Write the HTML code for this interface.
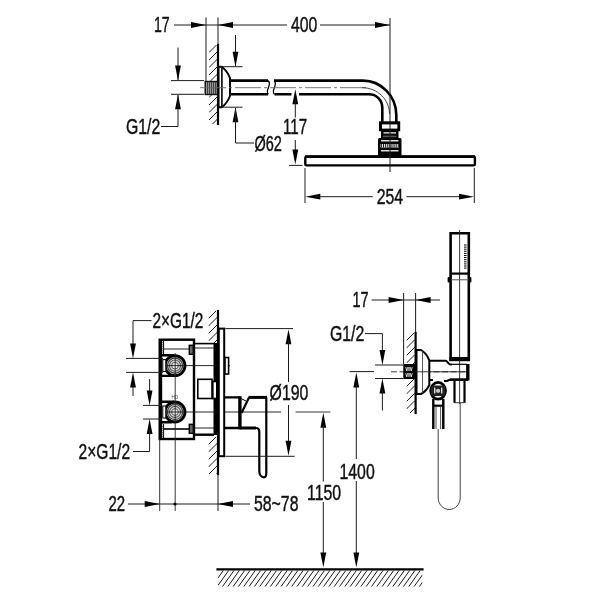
<!DOCTYPE html>
<html><head><meta charset="utf-8"><title>Dimensions</title>
<style>
html,body{margin:0;padding:0;background:#fff;}
body{width:600px;height:600px;overflow:hidden;}
svg{display:block;will-change:transform;filter:blur(0.45px);font-family:"Liberation Sans",sans-serif;fill:#111;}
</style></head><body>
<svg width="600" height="600" viewBox="0 0 600 600">
<rect width="600" height="600" fill="#fff"/>
<!-- top: shower arm -->
<text transform="translate(154,32.3) scale(0.64,1)" font-size="22" stroke="#111" stroke-width="0.45">17</text>
<line x1="174" y1="25" x2="287" y2="25" stroke="#1c1c1c" stroke-width="1.0" />
<polygon points="206,25 191,22.1 191,27.9" fill="#000"/>
<polygon points="218,25 233,22.1 233,27.9" fill="#000"/>
<text transform="translate(291,32.3) scale(0.72,1)" font-size="22" stroke="#111" stroke-width="0.45">400</text>
<line x1="320" y1="25" x2="390" y2="25" stroke="#1c1c1c" stroke-width="1.0" />
<polygon points="390,25 375,22.1 375,27.9" fill="#000"/>
<line x1="206" y1="17.5" x2="206" y2="94" stroke="#1c1c1c" stroke-width="1.0" />
<line x1="218" y1="17.5" x2="218" y2="45" stroke="#1c1c1c" stroke-width="1.0" />
<clipPath id="c1"><rect x="209" y="45" width="8.5" height="79"/></clipPath>
<g clip-path="url(#c1)" stroke="#1c1c1c" stroke-width="1.0">
<line x1="209" y1="45.00" x2="217.5" y2="36.50"/>
<line x1="209" y1="52.50" x2="217.5" y2="44.00"/>
<line x1="209" y1="60.00" x2="217.5" y2="51.50"/>
<line x1="209" y1="67.50" x2="217.5" y2="59.00"/>
<line x1="209" y1="75.00" x2="217.5" y2="66.50"/>
<line x1="209" y1="82.50" x2="217.5" y2="74.00"/>
<line x1="209" y1="90.00" x2="217.5" y2="81.50"/>
<line x1="209" y1="97.50" x2="217.5" y2="89.00"/>
<line x1="209" y1="105.00" x2="217.5" y2="96.50"/>
<line x1="209" y1="112.50" x2="217.5" y2="104.00"/>
<line x1="209" y1="120.00" x2="217.5" y2="111.50"/>
<line x1="209" y1="127.50" x2="217.5" y2="119.00"/>
<line x1="209" y1="135.00" x2="217.5" y2="126.50"/>
</g>
<line x1="218" y1="45" x2="218" y2="124" stroke="#000" stroke-width="2.2" stroke-linecap="square"/>
<rect x="205.2" y="81.5" width="12.3" height="13" stroke="#111" stroke-width="1.4" fill="#999"/>
<line x1="207.5" y1="82" x2="207.5" y2="94" stroke="#333" stroke-width="0.9" />
<line x1="209.5" y1="82" x2="209.5" y2="94" stroke="#333" stroke-width="0.9" />
<line x1="211.5" y1="82" x2="211.5" y2="94" stroke="#333" stroke-width="0.9" />
<line x1="213.5" y1="82" x2="213.5" y2="94" stroke="#333" stroke-width="0.9" />
<line x1="215.5" y1="82" x2="215.5" y2="94" stroke="#333" stroke-width="0.9" />
<path d="M218.5,66.7 L221.7,66.7 Q226.9,70.3 230,78 L230,96 Q226.9,103.7 221.7,107.2 L218.5,107.2 Z" stroke="#000" stroke-width="2" fill="none" />
<line x1="221.9" y1="67" x2="221.9" y2="107" stroke="#000" stroke-width="1.6" />
<path d="M230,80.6 L268,80.6 M230,94.3 L268,94.3" stroke="#000" stroke-width="2.6" fill="none" />
<path d="M274,80.6 L363,80.6 C381,80.6 396.3,96 396.3,115 L396.3,122" stroke="#000" stroke-width="2.6" fill="none" />
<path d="M274.5,94.3 L291.5,94.3 M299,94.3 L369,94.3 C376.5,94.3 382.3,100 382.3,108 L382.3,122" stroke="#000" stroke-width="2.6" fill="none" />
<path d="M268,80.6 C273,84 264,91 268.5,94.3" stroke="#000" stroke-width="1.3" fill="none" />
<path d="M274,80.6 C279,84 270,91 274.5,94.3" stroke="#000" stroke-width="1.3" fill="none" />
<line x1="200" y1="87.7" x2="366" y2="87.7" stroke="#666" stroke-width="0.9" stroke-dasharray="26 3 3 3"/>
<path d="M362,87.7 C378,87.7 389.5,100 389.5,114" stroke="#333" stroke-width="0.9" fill="none" />
<rect x="379" y="121.3" width="21.2" height="9.9" fill="#000"/>
<rect x="382" y="124.4" width="15.4" height="4.2" fill="#fff"/>
<rect x="381" y="131" width="17.5" height="7.5" fill="#000"/>
<rect x="383.5" y="132.3" width="12.5" height="1.2" fill="#fff"/>
<rect x="383" y="135.6" width="13.5" height="1.6" fill="#555"/>
<rect x="378" y="138" width="23.5" height="18" rx="1.5" fill="#000"/>
<rect x="381" y="140" width="17.5" height="1.5" fill="#ddd"/>
<rect x="380.5" y="144" width="18.5" height="3.5" fill="#fff"/>
<line x1="381.6" y1="144" x2="381.6" y2="147.5" stroke="#000" stroke-width="0.9" />
<line x1="383.5" y1="144" x2="383.5" y2="147.5" stroke="#000" stroke-width="0.9" />
<line x1="385.40000000000003" y1="144" x2="385.40000000000003" y2="147.5" stroke="#000" stroke-width="0.9" />
<line x1="387.3" y1="144" x2="387.3" y2="147.5" stroke="#000" stroke-width="0.9" />
<line x1="389.20000000000005" y1="144" x2="389.20000000000005" y2="147.5" stroke="#000" stroke-width="0.9" />
<line x1="391.1" y1="144" x2="391.1" y2="147.5" stroke="#000" stroke-width="0.9" />
<line x1="393.0" y1="144" x2="393.0" y2="147.5" stroke="#000" stroke-width="0.9" />
<line x1="394.90000000000003" y1="144" x2="394.90000000000003" y2="147.5" stroke="#000" stroke-width="0.9" />
<line x1="396.8" y1="144" x2="396.8" y2="147.5" stroke="#000" stroke-width="0.9" />
<line x1="398.70000000000005" y1="144" x2="398.70000000000005" y2="147.5" stroke="#000" stroke-width="0.9" />
<rect x="381" y="150" width="17.5" height="1.5" fill="#ddd"/>
<rect x="305.3" y="156.8" width="169.6" height="8.6" rx="1.2" fill="#fff" stroke="#000" stroke-width="2.4"/>
<line x1="305" y1="155.9" x2="475" y2="155.9" stroke="#000" stroke-width="1.2" />
<line x1="390" y1="18" x2="390" y2="172" stroke="#1c1c1c" stroke-width="1.0" />
<line x1="171" y1="80.6" x2="204" y2="80.6" stroke="#1c1c1c" stroke-width="1.0" />
<line x1="171" y1="94.3" x2="204" y2="94.3" stroke="#1c1c1c" stroke-width="1.0" />
<line x1="178" y1="47.5" x2="178" y2="80" stroke="#1c1c1c" stroke-width="1.0" />
<polygon points="178,80.6 175.1,65.6 180.9,65.6" fill="#000"/>
<polygon points="178,94.3 175.1,109.3 180.9,109.3" fill="#000"/>
<line x1="178" y1="95" x2="178" y2="126.5" stroke="#1c1c1c" stroke-width="1.0" />
<line x1="161" y1="126.5" x2="178" y2="126.5" stroke="#1c1c1c" stroke-width="1.0" />
<text transform="translate(126,134) scale(0.72,1)" font-size="22" stroke="#111" stroke-width="0.45">G1/2</text>
<line x1="220" y1="66.7" x2="242.5" y2="66.7" stroke="#1c1c1c" stroke-width="1.0" />
<line x1="220" y1="107.2" x2="242.5" y2="107.2" stroke="#1c1c1c" stroke-width="1.0" />
<line x1="235.5" y1="35" x2="235.5" y2="66" stroke="#1c1c1c" stroke-width="1.0" />
<polygon points="235.5,66.7 232.6,51.7 238.4,51.7" fill="#000"/>
<polygon points="235.5,107.2 232.6,122.2 238.4,122.2" fill="#000"/>
<line x1="235.5" y1="108" x2="235.5" y2="143" stroke="#1c1c1c" stroke-width="1.0" />
<line x1="235.5" y1="143" x2="254" y2="143" stroke="#1c1c1c" stroke-width="1.0" />
<text transform="translate(254.5,151.3) scale(0.66,1)" font-size="22" stroke="#111" stroke-width="0.45">Ø62</text>
<polygon points="295.3,89.2 292.40000000000003,104.2 298.2,104.2" fill="#000"/>
<line x1="295.3" y1="100" x2="295.3" y2="117.5" stroke="#1c1c1c" stroke-width="1.0" />
<text transform="translate(283,134) scale(0.69,1)" font-size="22" stroke="#111" stroke-width="0.45">117</text>
<line x1="295.3" y1="140" x2="295.3" y2="160" stroke="#1c1c1c" stroke-width="1.0" />
<polygon points="295.3,164.5 292.40000000000003,149.5 298.2,149.5" fill="#000"/>
<line x1="289" y1="165.4" x2="302.5" y2="165.4" stroke="#1c1c1c" stroke-width="1.0" />
<line x1="305" y1="168" x2="305" y2="203" stroke="#1c1c1c" stroke-width="1.0" />
<line x1="474.3" y1="168" x2="474.3" y2="203" stroke="#1c1c1c" stroke-width="1.0" />
<polygon points="305.3,196.7 320.3,193.79999999999998 320.3,199.6" fill="#000"/>
<line x1="315" y1="196.7" x2="372.7" y2="196.7" stroke="#1c1c1c" stroke-width="1.0" />
<text transform="translate(376.7,204.3) scale(0.72,1)" font-size="22" stroke="#111" stroke-width="0.45">254</text>
<line x1="406.4" y1="196.7" x2="465" y2="196.7" stroke="#1c1c1c" stroke-width="1.0" />
<polygon points="474,196.7 459,193.79999999999998 459,199.6" fill="#000"/>
<!-- left: concealed valve -->
<clipPath id="c2"><rect x="208.5" y="311" width="9.0" height="32"/></clipPath>
<g clip-path="url(#c2)" stroke="#1c1c1c" stroke-width="1.0">
<line x1="208.5" y1="311.00" x2="217.5" y2="302.00"/>
<line x1="208.5" y1="318.50" x2="217.5" y2="309.50"/>
<line x1="208.5" y1="326.00" x2="217.5" y2="317.00"/>
<line x1="208.5" y1="333.50" x2="217.5" y2="324.50"/>
<line x1="208.5" y1="341.00" x2="217.5" y2="332.00"/>
<line x1="208.5" y1="348.50" x2="217.5" y2="339.50"/>
<line x1="208.5" y1="356.00" x2="217.5" y2="347.00"/>
</g>
<clipPath id="c3"><rect x="208.5" y="437" width="9.0" height="37"/></clipPath>
<g clip-path="url(#c3)" stroke="#1c1c1c" stroke-width="1.0">
<line x1="208.5" y1="437.00" x2="217.5" y2="428.00"/>
<line x1="208.5" y1="444.50" x2="217.5" y2="435.50"/>
<line x1="208.5" y1="452.00" x2="217.5" y2="443.00"/>
<line x1="208.5" y1="459.50" x2="217.5" y2="450.50"/>
<line x1="208.5" y1="467.00" x2="217.5" y2="458.00"/>
<line x1="208.5" y1="474.50" x2="217.5" y2="465.50"/>
<line x1="208.5" y1="482.00" x2="217.5" y2="473.00"/>
<line x1="208.5" y1="489.50" x2="217.5" y2="480.50"/>
</g>
<line x1="218" y1="311" x2="218" y2="474" stroke="#000" stroke-width="2.2" stroke-linecap="square"/>
<line x1="218" y1="474" x2="218" y2="511" stroke="#1c1c1c" stroke-width="1.0" />
<rect x="159.7" y="339.7" width="34.3" height="99.3" stroke="#000" stroke-width="2.4" fill="none"/>
<line x1="162.2" y1="342" x2="162.2" y2="354" stroke="#888" stroke-width="1.2" stroke-dasharray="1 1"/>
<line x1="162.2" y1="426" x2="162.2" y2="437" stroke="#888" stroke-width="1.2" stroke-dasharray="1 1"/>
<line x1="163.6" y1="341" x2="163.6" y2="355" stroke="#000" stroke-width="1.0" />
<line x1="163.6" y1="424" x2="163.6" y2="438" stroke="#000" stroke-width="1.0" />
<line x1="164" y1="349" x2="189" y2="349" stroke="#222" stroke-width="1.0" />
<line x1="164" y1="429" x2="190" y2="429" stroke="#000" stroke-width="1.6" />
<rect x="189.3" y="345.3" width="4" height="9" stroke="#000" stroke-width="1.4" fill="#666"/>
<rect x="189.3" y="424.3" width="4" height="9" stroke="#000" stroke-width="1.4" fill="#666"/>
<line x1="194" y1="343.6" x2="214" y2="343.6" stroke="#000" stroke-width="1.6" />
<line x1="194" y1="348" x2="214" y2="348" stroke="#222" stroke-width="1.0" />
<line x1="194" y1="428" x2="214" y2="428" stroke="#222" stroke-width="1.0" />
<line x1="194" y1="434.7" x2="214" y2="434.7" stroke="#000" stroke-width="2.4" />
<rect x="213.5" y="343" width="4.5" height="92" fill="#000"/>
<line x1="160.6" y1="341" x2="160.6" y2="438" stroke="#000" stroke-width="3.2" stroke-linecap="square"/>
<path d="M160,355.3 L174,355.3 M160,375.90000000000003 L172,375.90000000000003" stroke="#000" stroke-width="2.4" fill="none" />
<circle cx="175" cy="365.6" r="10" fill="#fff" stroke="#000" stroke-width="2.9"/>
<rect x="162.8" y="359.6" width="3" height="12" fill="#fff" stroke="#000" stroke-width="1"/>
<circle cx="175" cy="365.6" r="7.6" fill="#ddd" stroke="#444" stroke-width="1.4"/>
<circle cx="175" cy="365.6" r="5.6" fill="none" stroke="#555" stroke-width="1.1"/>
<circle cx="175" cy="365.6" r="3.4" fill="#eee" stroke="#555" stroke-width="1.0"/>
<line x1="165" y1="365.6" x2="230" y2="365.6" stroke="#111" stroke-width="0.9" />
<path d="M160,401.7 L174,401.7 M160,422.3 L172,422.3" stroke="#000" stroke-width="2.4" fill="none" />
<circle cx="175" cy="412" r="10" fill="#fff" stroke="#000" stroke-width="2.9"/>
<rect x="162.8" y="406" width="3" height="12" fill="#fff" stroke="#000" stroke-width="1"/>
<circle cx="175" cy="412" r="7.6" fill="#ddd" stroke="#444" stroke-width="1.4"/>
<circle cx="175" cy="412" r="5.6" fill="none" stroke="#555" stroke-width="1.1"/>
<circle cx="175" cy="412" r="3.4" fill="#eee" stroke="#555" stroke-width="1.0"/>
<line x1="165" y1="412" x2="281" y2="412" stroke="#111" stroke-width="0.9" />
<line x1="175.2" y1="353" x2="175.2" y2="511" stroke="#222" stroke-width="0.9" />
<line x1="159.7" y1="439" x2="159.7" y2="511" stroke="#222" stroke-width="0.9" />
<text x="171.5" y="398.5" font-size="4.5" style="fill:#444">HO</text>
<rect x="197.8" y="379.3" width="14.2" height="19.2" stroke="#000" stroke-width="1.6" fill="#fff"/>
<rect x="212.8" y="381.5" width="4" height="17" stroke="#000" stroke-width="1.6" fill="#fff"/>
<rect x="218.8" y="328.6" width="5.4" height="127.6" stroke="#000" stroke-width="2.0" fill="#fff"/>
<rect x="225" y="357.5" width="3.6" height="16.5" stroke="#000" stroke-width="1.6" fill="#fff"/>
<path d="M224.5,397.4 L239.7,397.4 M239.7,428 L224.5,428" stroke="#000" stroke-width="2.4" fill="none" />
<path d="M239.9,396.2 L239.9,429.3" stroke="#000" stroke-width="3.4" fill="none" />
<path d="M239.7,428 L256,428" stroke="#000" stroke-width="3.0" fill="none" />
<path d="M248.5,397.4 L267,397.4" stroke="#000" stroke-width="3.0" fill="none" />
<path d="M256,428 C258.5,428 259.3,429 259.3,432 L259.3,471 C259.3,474.5 261,477.3 264,477.3 C265.8,477.3 266.3,476 266.3,473 L266.3,397.4 M249,397.4 L241.5,413" stroke="#000" stroke-width="2.2" fill="none" />
<path d="M240,398 L246,401" stroke="#000" stroke-width="1.0" fill="none" />
<line x1="295.6" y1="412" x2="330.4" y2="412" stroke="#222" stroke-width="0.9" />
<text transform="translate(152.5,328) scale(0.7,1)" font-size="22" stroke="#111" stroke-width="0.45">2×G1/2</text>
<line x1="133" y1="320.6" x2="151.5" y2="320.6" stroke="#1c1c1c" stroke-width="1.0" />
<line x1="133" y1="320.6" x2="133" y2="345" stroke="#1c1c1c" stroke-width="1.0" />
<polygon points="133,358.4 130.1,343.4 135.9,343.4" fill="#000"/>
<line x1="126" y1="358.4" x2="163" y2="358.4" stroke="#1c1c1c" stroke-width="1.0" />
<line x1="126" y1="372.4" x2="163" y2="372.4" stroke="#1c1c1c" stroke-width="1.0" />
<polygon points="133,372.4 130.1,387.4 135.9,387.4" fill="#000"/>
<line x1="133" y1="385" x2="133" y2="396" stroke="#1c1c1c" stroke-width="1.0" />
<line x1="149.6" y1="379" x2="149.6" y2="392" stroke="#1c1c1c" stroke-width="1.0" />
<polygon points="149.6,405.4 146.7,390.4 152.5,390.4" fill="#000"/>
<line x1="143" y1="405.4" x2="161" y2="405.4" stroke="#1c1c1c" stroke-width="1.0" />
<line x1="143" y1="419" x2="161" y2="419" stroke="#1c1c1c" stroke-width="1.0" />
<polygon points="149.6,419 146.7,434 152.5,434" fill="#000"/>
<line x1="149.6" y1="430" x2="149.6" y2="451.5" stroke="#1c1c1c" stroke-width="1.0" />
<line x1="133" y1="451.5" x2="149.6" y2="451.5" stroke="#1c1c1c" stroke-width="1.0" />
<text transform="translate(78.5,459) scale(0.71,1)" font-size="22" stroke="#111" stroke-width="0.45">2×G1/2</text>
<line x1="225.5" y1="328.6" x2="293" y2="328.6" stroke="#1c1c1c" stroke-width="1.0" />
<line x1="225.5" y1="456.3" x2="294.7" y2="456.3" stroke="#1c1c1c" stroke-width="1.0" />
<polygon points="288.5,329.2 285.6,344.2 291.4,344.2" fill="#000"/>
<line x1="288.5" y1="340" x2="288.5" y2="382" stroke="#1c1c1c" stroke-width="1.0" />
<text transform="translate(269.6,400.3) scale(0.72,1)" font-size="22" stroke="#111" stroke-width="0.45">Ø190</text>
<line x1="288.5" y1="405" x2="288.5" y2="445" stroke="#1c1c1c" stroke-width="1.0" />
<polygon points="288.5,455.7 285.6,440.7 291.4,440.7" fill="#000"/>
<text transform="translate(108.5,511) scale(0.68,1)" font-size="22" stroke="#111" stroke-width="0.45">22</text>
<line x1="128" y1="504" x2="250" y2="504" stroke="#1c1c1c" stroke-width="1.0" />
<polygon points="159.7,504 144.7,501.1 144.7,506.9" fill="#000"/>
<polygon points="218,504 233,501.1 233,506.9" fill="#000"/>
<circle cx="175" cy="504" r="1.6" fill="#000"/>
<text transform="translate(254,511) scale(0.72,1)" font-size="22" stroke="#111" stroke-width="0.45">58~78</text>
<polygon points="323.3,412.8 320.40000000000003,427.8 326.2,427.8" fill="#000"/>
<line x1="323.3" y1="425" x2="323.3" y2="481.5" stroke="#1c1c1c" stroke-width="1.0" />
<text transform="translate(307,500) scale(0.72,1)" font-size="22" stroke="#111" stroke-width="0.45">1150</text>
<line x1="323.3" y1="502" x2="323.3" y2="555" stroke="#1c1c1c" stroke-width="1.0" />
<polygon points="323.3,567.5 320.40000000000003,552.5 326.2,552.5" fill="#000"/>
<line x1="349.5" y1="371.6" x2="374" y2="371.6" stroke="#1c1c1c" stroke-width="1.0" />
<polygon points="356.3,372.4 353.40000000000003,387.4 359.2,387.4" fill="#000"/>
<line x1="356.3" y1="385" x2="356.3" y2="459" stroke="#1c1c1c" stroke-width="1.0" />
<text transform="translate(339.5,478.5) scale(0.72,1)" font-size="22" stroke="#111" stroke-width="0.45">1400</text>
<line x1="356.3" y1="481" x2="356.3" y2="555" stroke="#1c1c1c" stroke-width="1.0" />
<polygon points="356.3,567.5 353.40000000000003,552.5 359.2,552.5" fill="#000"/>
<line x1="217.5" y1="569.3" x2="422.5" y2="569.3" stroke="#000" stroke-width="2.2" stroke-linecap="square"/>
<clipPath id="c4"><rect x="218" y="570.5" width="204.5" height="16.0"/></clipPath>
<g clip-path="url(#c4)" stroke="#1c1c1c" stroke-width="1.0">
<line x1="218" y1="570.50" x2="422.5" y2="284.20"/>
<line x1="218" y1="577.95" x2="422.5" y2="291.65"/>
<line x1="218" y1="585.40" x2="422.5" y2="299.10"/>
<line x1="218" y1="592.85" x2="422.5" y2="306.55"/>
<line x1="218" y1="600.30" x2="422.5" y2="314.00"/>
<line x1="218" y1="607.75" x2="422.5" y2="321.45"/>
<line x1="218" y1="615.20" x2="422.5" y2="328.90"/>
<line x1="218" y1="622.65" x2="422.5" y2="336.35"/>
<line x1="218" y1="630.10" x2="422.5" y2="343.80"/>
<line x1="218" y1="637.55" x2="422.5" y2="351.25"/>
<line x1="218" y1="645.00" x2="422.5" y2="358.70"/>
<line x1="218" y1="652.45" x2="422.5" y2="366.15"/>
<line x1="218" y1="659.90" x2="422.5" y2="373.60"/>
<line x1="218" y1="667.35" x2="422.5" y2="381.05"/>
<line x1="218" y1="674.80" x2="422.5" y2="388.50"/>
<line x1="218" y1="682.25" x2="422.5" y2="395.95"/>
<line x1="218" y1="689.70" x2="422.5" y2="403.40"/>
<line x1="218" y1="697.15" x2="422.5" y2="410.85"/>
<line x1="218" y1="704.60" x2="422.5" y2="418.30"/>
<line x1="218" y1="712.05" x2="422.5" y2="425.75"/>
<line x1="218" y1="719.50" x2="422.5" y2="433.20"/>
<line x1="218" y1="726.95" x2="422.5" y2="440.65"/>
<line x1="218" y1="734.40" x2="422.5" y2="448.10"/>
<line x1="218" y1="741.85" x2="422.5" y2="455.55"/>
<line x1="218" y1="749.30" x2="422.5" y2="463.00"/>
<line x1="218" y1="756.75" x2="422.5" y2="470.45"/>
<line x1="218" y1="764.20" x2="422.5" y2="477.90"/>
<line x1="218" y1="771.65" x2="422.5" y2="485.35"/>
<line x1="218" y1="779.10" x2="422.5" y2="492.80"/>
<line x1="218" y1="786.55" x2="422.5" y2="500.25"/>
<line x1="218" y1="794.00" x2="422.5" y2="507.70"/>
<line x1="218" y1="801.45" x2="422.5" y2="515.15"/>
<line x1="218" y1="808.90" x2="422.5" y2="522.60"/>
<line x1="218" y1="816.35" x2="422.5" y2="530.05"/>
<line x1="218" y1="823.80" x2="422.5" y2="537.50"/>
<line x1="218" y1="831.25" x2="422.5" y2="544.95"/>
<line x1="218" y1="838.70" x2="422.5" y2="552.40"/>
<line x1="218" y1="846.15" x2="422.5" y2="559.85"/>
<line x1="218" y1="853.60" x2="422.5" y2="567.30"/>
<line x1="218" y1="861.05" x2="422.5" y2="574.75"/>
<line x1="218" y1="868.50" x2="422.5" y2="582.20"/>
<line x1="218" y1="875.95" x2="422.5" y2="589.65"/>
</g>
<!-- right: hand shower -->
<text transform="translate(352.5,307.3) scale(0.66,1)" font-size="22" stroke="#111" stroke-width="0.45">17</text>
<line x1="371.6" y1="300" x2="440" y2="300" stroke="#1c1c1c" stroke-width="1.0" />
<polygon points="403.6,300 388.6,297.1 388.6,302.9" fill="#000"/>
<polygon points="415.6,300 430.6,297.1 430.6,302.9" fill="#000"/>
<line x1="403.6" y1="293" x2="403.6" y2="364" stroke="#1c1c1c" stroke-width="1.0" />
<line x1="415.6" y1="293" x2="415.6" y2="333" stroke="#1c1c1c" stroke-width="1.0" />
<clipPath id="c5"><rect x="406.5" y="333" width="8.5" height="31"/></clipPath>
<g clip-path="url(#c5)" stroke="#1c1c1c" stroke-width="1.0">
<line x1="406.5" y1="333.00" x2="415" y2="324.50"/>
<line x1="406.5" y1="340.50" x2="415" y2="332.00"/>
<line x1="406.5" y1="348.00" x2="415" y2="339.50"/>
<line x1="406.5" y1="355.50" x2="415" y2="347.00"/>
<line x1="406.5" y1="363.00" x2="415" y2="354.50"/>
<line x1="406.5" y1="370.50" x2="415" y2="362.00"/>
<line x1="406.5" y1="378.00" x2="415" y2="369.50"/>
</g>
<clipPath id="c6"><rect x="406.5" y="379" width="8.5" height="34"/></clipPath>
<g clip-path="url(#c6)" stroke="#1c1c1c" stroke-width="1.0">
<line x1="406.5" y1="379.00" x2="415" y2="370.50"/>
<line x1="406.5" y1="386.50" x2="415" y2="378.00"/>
<line x1="406.5" y1="394.00" x2="415" y2="385.50"/>
<line x1="406.5" y1="401.50" x2="415" y2="393.00"/>
<line x1="406.5" y1="409.00" x2="415" y2="400.50"/>
<line x1="406.5" y1="416.50" x2="415" y2="408.00"/>
<line x1="406.5" y1="424.00" x2="415" y2="415.50"/>
</g>
<line x1="415.6" y1="333" x2="415.6" y2="413" stroke="#000" stroke-width="2.2" stroke-linecap="square"/>
<text transform="translate(330,341) scale(0.72,1)" font-size="22" stroke="#111" stroke-width="0.45">G1/2</text>
<line x1="365" y1="333.6" x2="382.4" y2="333.6" stroke="#1c1c1c" stroke-width="1.0" />
<line x1="382.4" y1="333.6" x2="382.4" y2="352" stroke="#1c1c1c" stroke-width="1.0" />
<polygon points="382.4,365 379.5,350 385.29999999999995,350" fill="#000"/>
<line x1="375" y1="365" x2="403" y2="365" stroke="#1c1c1c" stroke-width="1.0" />
<line x1="375" y1="378.5" x2="403" y2="378.5" stroke="#1c1c1c" stroke-width="1.0" />
<polygon points="382.4,378.5 379.5,393.5 385.29999999999995,393.5" fill="#000"/>
<line x1="382.4" y1="390" x2="382.4" y2="410.5" stroke="#1c1c1c" stroke-width="1.0" />
<line x1="391" y1="371.8" x2="468" y2="371.8" stroke="#222" stroke-width="0.9" stroke-dasharray="6 2.5"/>
<rect x="403.3" y="364" width="12" height="15" fill="#000"/>
<text x="405.6" y="370.6" font-size="5" font-weight="bold" style="fill:#fff" textLength="7" lengthAdjust="spacingAndGlyphs">WW</text>
<text x="405.6" y="377.3" font-size="5" font-weight="bold" style="fill:#fff" textLength="7" lengthAdjust="spacingAndGlyphs">WW</text>
<path d="M416.5,350 L421,350 Q426.6,353.2 429.3,360.5 L429.3,385 Q426.6,391 421,394 L416.5,394 Z" stroke="#000" stroke-width="2.0" fill="#fff" />
<line x1="422.5" y1="351" x2="422.5" y2="393" stroke="#444" stroke-width="0.9" />
<line x1="416" y1="371.8" x2="468" y2="371.8" stroke="#222" stroke-width="0.9" />
<path d="M429.5,360.7 L445.5,360.7 C447.5,360.7 448,364.5 450.5,364.5 L452,364.5" stroke="#000" stroke-width="2.0" fill="none" />
<path d="M429.5,380 L433,380 M444,381 L447,381 L450,379.5" stroke="#000" stroke-width="2.0" fill="none" />
<path d="M450.6,361 L450.6,233.3 L468.8,233.3 L468.8,361" stroke="#000" stroke-width="2.6" fill="none" />
<line x1="459.6" y1="230" x2="459.6" y2="404" stroke="#222" stroke-width="0.9" />
<line x1="464" y1="245.0" x2="466.6" y2="245.0" stroke="#000" stroke-width="1.0" />
<line x1="464" y1="247.1" x2="466.6" y2="247.1" stroke="#000" stroke-width="1.0" />
<line x1="464" y1="249.2" x2="466.6" y2="249.2" stroke="#000" stroke-width="1.0" />
<line x1="464" y1="251.3" x2="466.6" y2="251.3" stroke="#000" stroke-width="1.0" />
<line x1="464" y1="253.4" x2="466.6" y2="253.4" stroke="#000" stroke-width="1.0" />
<line x1="464" y1="255.5" x2="466.6" y2="255.5" stroke="#000" stroke-width="1.0" />
<line x1="464" y1="257.6" x2="466.6" y2="257.6" stroke="#000" stroke-width="1.0" />
<line x1="464" y1="259.7" x2="466.6" y2="259.7" stroke="#000" stroke-width="1.0" />
<line x1="464" y1="261.8" x2="466.6" y2="261.8" stroke="#000" stroke-width="1.0" />
<line x1="464" y1="263.9" x2="466.6" y2="263.9" stroke="#000" stroke-width="1.0" />
<line x1="464" y1="266.0" x2="466.6" y2="266.0" stroke="#000" stroke-width="1.0" />
<line x1="464" y1="268.1" x2="466.6" y2="268.1" stroke="#000" stroke-width="1.0" />
<line x1="450.6" y1="273.6" x2="468.8" y2="273.6" stroke="#000" stroke-width="2.2" />
<line x1="450.6" y1="279.8" x2="468.8" y2="279.8" stroke="#555" stroke-width="1.0" />
<rect x="447.6" y="277" width="3" height="5.6" rx="1" fill="#000"/>
<rect x="468.8" y="277" width="2.6" height="5.6" rx="1" fill="#000"/>
<rect x="449.4" y="357" width="20.6" height="4.2" fill="#000"/>
<line x1="452" y1="364.3" x2="467" y2="364.3" stroke="#000" stroke-width="1.2" />
<path d="M450,379.6 L468,379.6" stroke="#000" stroke-width="2.6" fill="none" />
<path d="M467.8,364 L467.8,380.5" stroke="#000" stroke-width="3.4" fill="none" />
<path d="M454.5,380.5 L454.5,402.7 M464.5,380.5 L464.5,402.7" stroke="#000" stroke-width="2.2" fill="none" />
<line x1="454.5" y1="402.7" x2="464.5" y2="402.7" stroke="#222" stroke-width="0.9" />
<ellipse cx="438.1" cy="390.8" rx="7.4" ry="8.4" fill="#fff" stroke="#000" stroke-width="2.8"/>
<rect x="431" y="385.5" width="14.2" height="10.4" rx="2.5" fill="#222"/>
<circle cx="438.1" cy="390.8" r="2.6" fill="#ccc" stroke="#000" stroke-width="0.8"/>
<rect x="434" y="387.6" width="1.4" height="5.8" fill="#ddd"/>
<rect x="441" y="387.6" width="1.4" height="5.8" fill="#ddd"/>
<path d="M433.3,399 L433.3,429 M443.3,399 L443.3,429" stroke="#000" stroke-width="2.4" fill="none" />
<line x1="433" y1="405.7" x2="443.6" y2="405.7" stroke="#000" stroke-width="2.2" />
<line x1="436" y1="407" x2="436" y2="429" stroke="#444" stroke-width="0.9" />
<line x1="440.6" y1="407" x2="440.6" y2="429" stroke="#444" stroke-width="0.9" />
<path d="M438.2,429 L438.2,498 C438.2,504 443,509.5 449.2,509.5 C455.4,509.5 460.2,504 460.2,498 L460.2,403" stroke="#444" stroke-width="1.0" fill="none" />
</svg></body></html>
